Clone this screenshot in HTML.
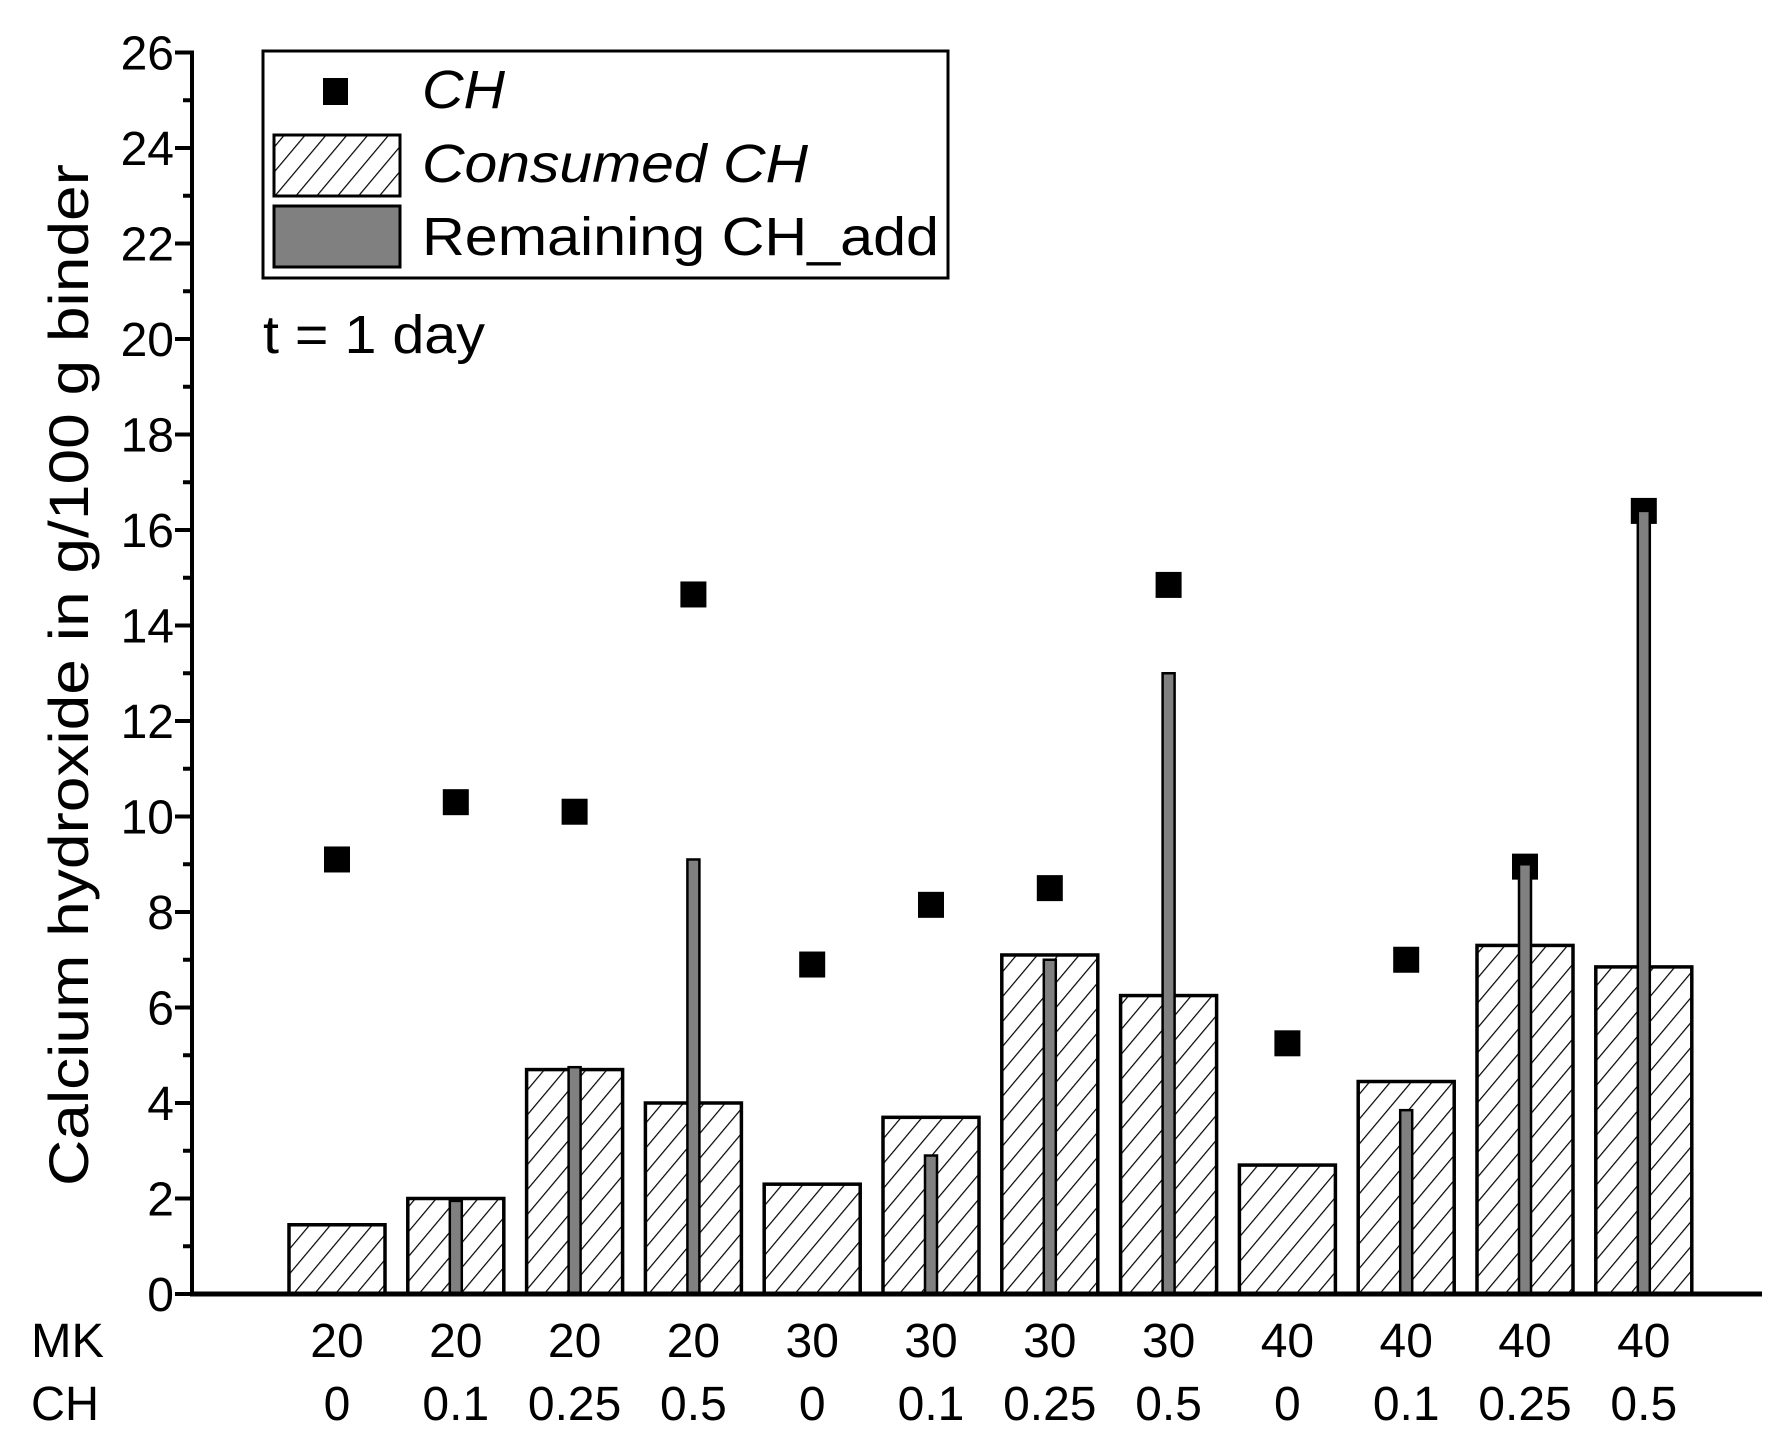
<!DOCTYPE html>
<html><head><meta charset="utf-8"><style>
html,body{margin:0;padding:0;background:#fff;}
svg{display:block;font-family:"Liberation Sans",Arial,sans-serif;}
</style></head><body>
<svg id="chart" width="1782" height="1451" viewBox="0 0 1782 1451" xmlns="http://www.w3.org/2000/svg" style="position:absolute;left:0;top:0">
<defs>
<pattern id="hatch" patternUnits="userSpaceOnUse" width="16" height="16" patternTransform="rotate(40)">
<line x1="0" y1="0" x2="0" y2="16" stroke="#000" stroke-width="2.4"/>
</pattern>
</defs>
<g id="plot"></g>
</svg>
<script>
const mkLabels = ["20","20","20","20","30","30","30","30","40","40","40","40"];
const chLabels = ["0","0.1","0.25","0.5","0","0.1","0.25","0.5","0","0.1","0.25","0.5"];
const consumed = [1.45,2.0,4.7,4.0,2.3,3.7,7.1,6.25,2.7,4.45,7.3,6.85];
const remaining = [0,1.95,4.75,9.1,0,2.9,7.0,13.0,0,3.85,9.0,16.4];
const chValues = [9.1,10.3,10.1,14.65,6.9,8.15,8.5,14.85,5.25,7.0,8.95,16.4];
const yTicks = [0,2,4,6,8,10,12,14,16,18,20,22,24,26];

const NS="http://www.w3.org/2000/svg";
const g=document.getElementById('plot');
const X0=192, Y0=1294, YTOP=52.5, YMAX=26;
const y=v=>Y0-(v/YMAX)*(Y0-YTOP);
const x=i=>337+i*118.8;
function mk(tag,attrs,parent){const e=document.createElementNS(NS,tag);for(const k in attrs)e.setAttribute(k,attrs[k]);(parent||g).appendChild(e);return e;}

consumed.forEach((v,i)=>{
  const r=mk('rect',{x:x(i)-48,y:y(v),width:96,height:Y0-y(v),fill:'url(#hatch)',stroke:'#000','stroke-width':3.5});
  
  
});
chValues.forEach((v,i)=>{
  const r=mk('rect',{x:x(i)-13,y:y(v)-13,width:26,height:26,fill:'#000'});
  
  
});
remaining.forEach((v,i)=>{
  if(v<=0)return;
  const r=mk('rect',{x:x(i)-6,y:y(v),width:12,height:Y0-y(v),fill:'#808080',stroke:'#000','stroke-width':2.5});
  
  
});
const ya=mk('line',{x1:X0,y1:YTOP-2,x2:X0,y2:Y0+2,stroke:'#000','stroke-width':4});


const xa=mk('line',{x1:X0-2,y1:Y0,x2:1762,y2:Y0,stroke:'#000','stroke-width':5});


for(let v=1;v<YMAX;v+=2){mk('line',{x1:X0-9,y1:y(v),x2:X0,y2:y(v),stroke:'#000','stroke-width':4});}
yTicks.forEach(v=>{
  mk('line',{x1:X0-17,y1:y(v),x2:X0,y2:y(v),stroke:'#000','stroke-width':4});
  const t=mk('text',{x:174,y:y(v)+17,'text-anchor':'end','font-size':48});
  t.textContent=v;
  
  
});
mkLabels.forEach((s,i)=>{
  const t=mk('text',{x:x(i),y:1357,'text-anchor':'middle','font-size':48});
  t.textContent=s;
  
  
  const c=mk('text',{x:x(i),y:1420,'text-anchor':'middle','font-size':48});
  c.textContent=chLabels[i];
  
  
});
</script>
<svg style="position:absolute;left:0;top:0" width="1782" height="1451" xmlns="http://www.w3.org/2000/svg" font-family="Liberation Sans, Arial, sans-serif">
<defs><pattern id="hatch2" patternUnits="userSpaceOnUse" width="16" height="16" patternTransform="rotate(40)"><line x1="0" y1="0" x2="0" y2="16" stroke="#000" stroke-width="2.4"/></pattern></defs>
<text x="31" y="1357" font-size="48" textLength="73" lengthAdjust="spacingAndGlyphs">MK</text>
<text x="31" y="1420" font-size="48" textLength="68" lengthAdjust="spacingAndGlyphs">CH</text>
<text transform="translate(88,675) rotate(-90)" text-anchor="middle" font-size="56" textLength="1022" lengthAdjust="spacingAndGlyphs">Calcium hydroxide in g/100 g binder</text>
<text x="263" y="353" font-size="54" textLength="222" lengthAdjust="spacingAndGlyphs">t = 1 day</text>
<g>
<rect x="263" y="51" width="685" height="227" fill="#fff" stroke="#000" stroke-width="3"/>
<rect x="323" y="78" width="25" height="27" fill="#000"/>
<text x="422" y="108" font-size="54" font-style="italic" textLength="83" lengthAdjust="spacingAndGlyphs">CH</text>
<rect x="274" y="135" width="126" height="61" fill="url(#hatch2)" stroke="#000" stroke-width="3"/>
<text x="422" y="182" font-size="54" font-style="italic" textLength="386" lengthAdjust="spacingAndGlyphs">Consumed CH</text>
<rect x="274" y="206" width="126" height="61" fill="#808080" stroke="#000" stroke-width="3"/>
<text x="422" y="255" font-size="54" textLength="517" lengthAdjust="spacingAndGlyphs">Remaining CH_add</text>
</g>
</svg>
</body></html>
